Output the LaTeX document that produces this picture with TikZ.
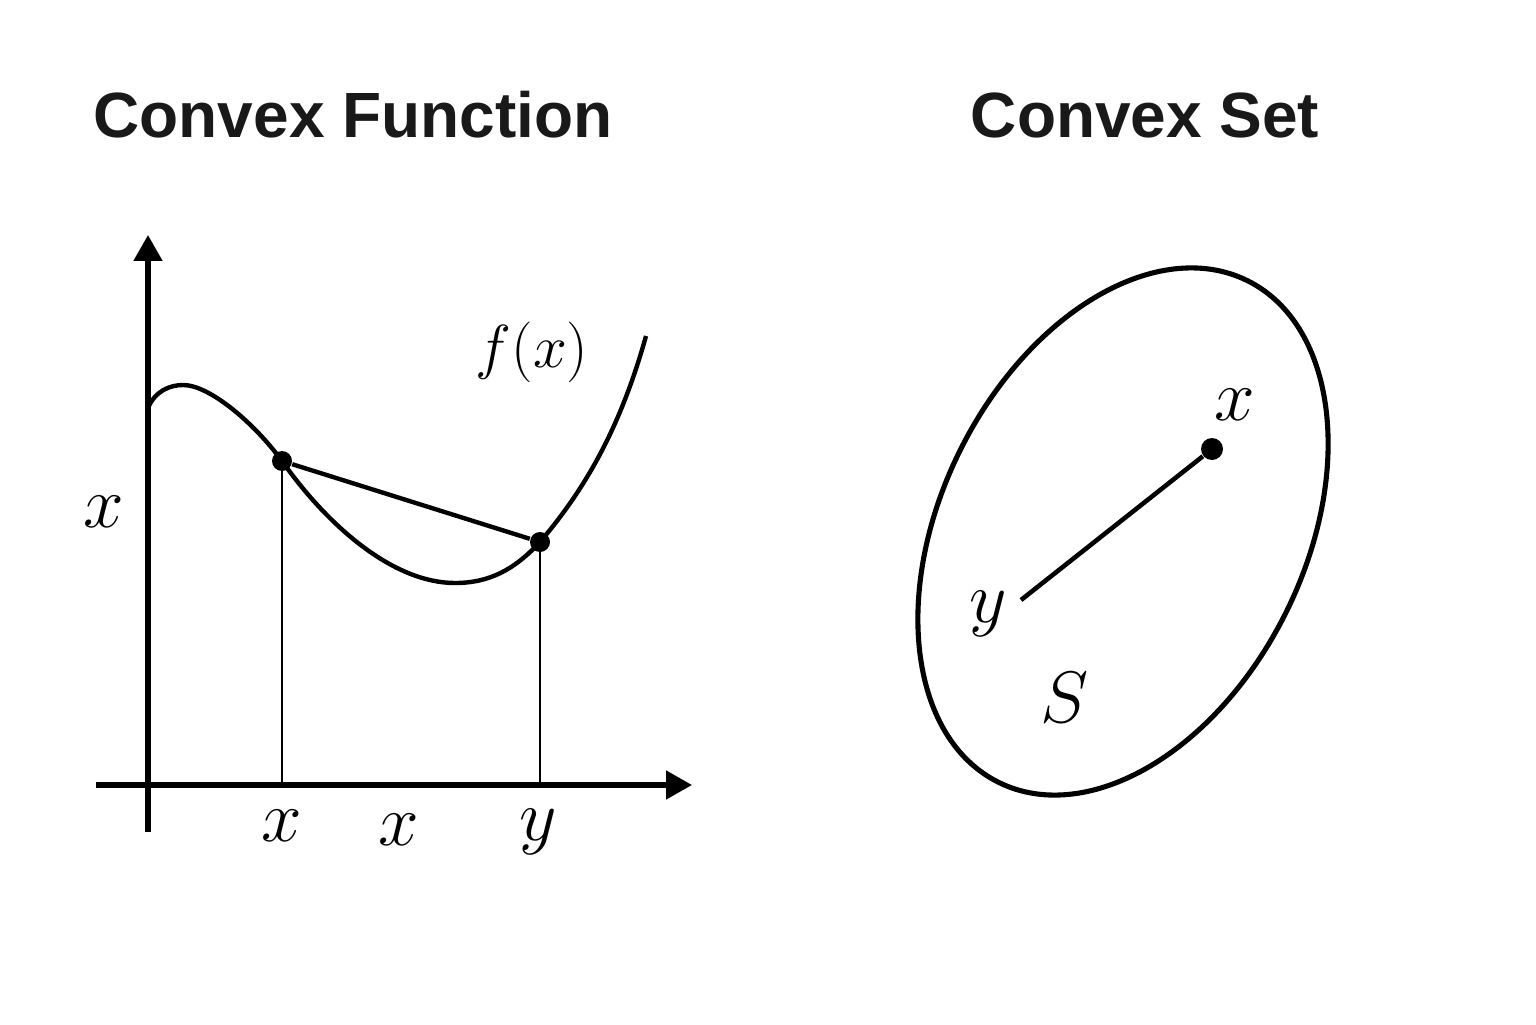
\documentclass[tikz,border=0pt]{standalone}
\usepackage{fontspec}
\setsansfont{Liberation Sans}
\usetikzlibrary{arrows.meta}
\begin{document}
\begin{tikzpicture}
\tikzset{
  ttl/.style={font=\sffamily\bfseries\fontsize{18.2}{22}\selectfont, text=black!90},
  lbl/.style={font=\fontsize{20.5}{24}\selectfont, inner sep=0pt},
  axisline/.style={line width=1.45pt, -{Triangle[length=0.26cm,width=0.28cm]}},
  curveline/.style={line width=1.25pt},
  thinline/.style={line width=0.6pt},
  dot/.style={circle, fill=black, inner sep=0pt, minimum size=0.2cm},
}
\useasboundingbox (0,0) rectangle (15.36,10.24);
% titles
\node[ttl] (t1) at (3.53,9.09) {Convex Function};
\node[ttl] (t2) at (11.45,9.09) {Convex Set};
% axes
\coordinate (yb) at (1.48,1.92);
\coordinate (yt) at (1.48,7.89);
\coordinate (xl) at (0.96,2.39);
\coordinate (xr) at (6.92,2.39);
\draw[axisline] (yb) -- (yt);
\draw[axisline] (xl) -- (xr);
% curve
\draw[curveline] (1.48,6.16) .. controls (1.55,6.33) and (1.70,6.39) .. (1.83,6.39)
  .. controls (2.10,6.39) and (2.55,6.00) .. (2.82,5.63)
  .. controls (3.30,4.95) and (3.95,4.41) .. (4.55,4.41)
  .. controls (4.90,4.41) and (5.15,4.55) .. (5.40,4.82)
  .. controls (5.85,5.35) and (6.20,5.95) .. (6.46,6.88);
% chord
\node[dot] (p) at (2.82,5.63) {};
\node[dot] (q) at (5.40,4.82) {};
\draw[curveline] (p) -- (q);
\coordinate (pb) at (2.82,2.39);
\coordinate (qb) at (5.40,2.39);
\draw[thinline] (p.center) -- (pb);
\draw[thinline] (q.center) -- (qb);
% labels
\node[lbl] (lx0) at (1.04,5.12) {$x$};
\node[lbl] (lx1) at (2.82,1.98) {$x$};
\node[lbl] (lx2) at (3.99,1.94) {$x$};
\node[lbl] (ly1) at (5.38,1.92) {$y$};
\node[lbl, font=\fontsize{18}{22}\selectfont] (lf) at (5.32,6.72) {$f(x)$};
% convex set
\draw[line width=1.45pt, rotate around={63.6:(11.23,4.925)}] (11.23,4.925) ellipse (2.80cm and 1.82cm);
\node[dot, minimum size=0.22cm] (sx) at (12.12,5.75) {};
\coordinate (sy) at (10.21,4.24);
\draw[line width=1.3pt] (sy) -- (sx);
\node[lbl] (lsx) at (12.35,6.19) {$x$};
\node[lbl] (lsy) at (9.88,4.10) {$y$};
\node[lbl] (lS) at (10.65,3.26) {$S$};
\end{tikzpicture}
\end{document}
